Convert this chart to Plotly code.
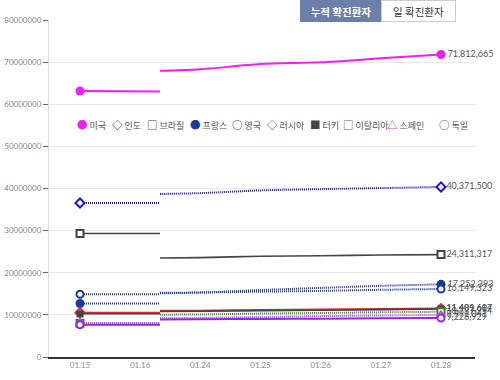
import plotly.graph_objects as go

# ---------------- data ----------------
dates = ["01.15", "01.16", "01.24", "01.25", "01.26", "01.27", "01.28"]
countries = ["미국", "인도", "브라질", "프랑스", "영국", "러시아", "터키", "이탈리아", "스페인", "독일"]

us      = [63150000, 63000000, 68300000, 69550000, 69950000, 70900000, 71812665]
india   = [36550000, 36550000, 38900000, 39550000, 39850000, 40100000, 40371500]
brazil  = [29300000, 29300000, 23600000, 23900000, 24050000, 24200000, 24311317]
france  = [12700000, 12700000, 15300000, 15900000, 16400000, 16900000, 17252393]
uk      = [14900000, 14900000, 15300000, 15500000, 15700000, 15950000, 16149323]
russia  = [10500000, 10500000, 11000000, 11150000, 11250000, 11380000, 11489617]
turkey  = [10250000, 10250000, 10850000, 11000000, 11100000, 11250000, 11401604]
italy   = [8000000, 8000000, 10100000, 10300000, 10450000, 10600000, 10737254]
spain   = [8100000, 8100000, 9300000, 9500000, 9700000, 9850000, 9991041]
germany = [7650000, 7650000, 8950000, 9050000, 9100000, 9170000, 9228929]

series_values = [us, india, brazil, france, uk, russia, turkey, italy, spain, germany]

y_ticks = [0, 10000000, 20000000, 30000000, 40000000, 50000000, 60000000, 70000000, 80000000]

# ---------------- styles ----------------
colors = ["#f01ef0", "#1a1acc", "#444444", "#1c3a9c", "#1c3a9c",
          "#d62c2c", "#444444", "#2e8b3e", "#e040e0", "#8a2be2"]
dashes = ["solid", "1px,1px", "solid", "1px,1px", "1px,1px",
          "solid", "solid", "1px,1px", "1px,1px", "solid"]
widths = [2, 2, 1.6, 2, 2, 2, 1.6, 2, 2, 2]
symbols = ["circle", "diamond", "square", "circle", "circle",
           "diamond", "square", "square", "triangle-up", "circle"]
filled = [True, False, False, True, False, False, True, False, False, False]
glyphs = ["●", "◇", "□", "●", "○", "◇", "■", "□", "△", "○"]

W, H = 500, 380
ML, MR, MT, MB = 49, 25, 20, 23
BREAK = 1.33  # where the first segment visually ends


def px_x(px):
    return (px - ML) / (W - ML - MR)


def px_y(py):
    return (H - MB - py) / (H - MT - MB)


fig = go.Figure()
idx = list(range(len(dates)))

for name, vals, c, d, w, s, f in zip(countries, series_values, colors, dashes, widths, symbols, filled):
    # first segment
    fig.add_trace(go.Scatter(
        x=[idx[0], idx[1], BREAK], y=[vals[0], vals[1], vals[1]],
        mode="lines", line=dict(color=c, width=w, dash=d),
        showlegend=False, hoverinfo="skip"))
    # second segment (starts slightly before 01.24, following the trend)
    start = vals[2] - 0.3 * (vals[3] - vals[2])
    fig.add_trace(go.Scatter(
        x=[BREAK] + idx[2:], y=[start] + vals[2:],
        mode="lines", line=dict(color=c, width=w, dash=d, shape="spline", smoothing=0.8),
        showlegend=False, hoverinfo="skip"))
    # end markers + last value label
    fig.add_trace(go.Scatter(
        x=[idx[0], idx[-1]], y=[vals[0], vals[-1]],
        mode="markers+text",
        text=["", f"{vals[-1]:,}"],
        textposition="middle right",
        textfont=dict(size=9, color="#555555", family="Lato"),
        marker=dict(symbol=s, size=(9 if f and s == "circle" else 7),
                    color=c if f else "white",
                    line=dict(color=c, width=0 if f else 2)),
        name=name, showlegend=False, cliponaxis=False))

annotations = []
# legend drawn as text items
legend_left_px = [75, 110, 145, 188, 230, 265, 308, 341, 385, 437]
for name, c, g, lx in zip(countries, colors, glyphs, legend_left_px):
    annotations.append(dict(
        x=px_x(lx), y=px_y(124), xref="paper", yref="paper",
        xanchor="left", yanchor="middle", showarrow=False,
        text=f"<span style='color:{c};font-size:10.5px;font-weight:bold'>{g}</span> {name}",
        font=dict(size=9, color="#555555", family="Noto Sans CJK KR")))

# toggle buttons
annotations.append(dict(
    x=px_x(340.5), y=px_y(11), xref="paper", yref="paper",
    xanchor="center", yanchor="middle", showarrow=False,
    text="<b>누적 확진환자</b>", width=78, height=18,
    bgcolor="#6b80a8", bordercolor="#6b80a8", borderwidth=1, borderpad=1,
    font=dict(size=10.5, color="white", family="Noto Sans CJK KR")))
annotations.append(dict(
    x=px_x(418), y=px_y(11), xref="paper", yref="paper",
    xanchor="center", yanchor="middle", showarrow=False,
    text="일 확진환자", width=71, height=18,
    bgcolor="white", bordercolor="#cccccc", borderwidth=1, borderpad=1,
    font=dict(size=10.5, color="#333333", family="Noto Sans CJK KR")))

fig.update_layout(
    width=W, height=H,
    margin=dict(l=ML, r=MR, t=MT, b=MB, autoexpand=False),
    paper_bgcolor="white", plot_bgcolor="white",
    showlegend=False,
    annotations=annotations,
    font=dict(family="Lato, Noto Sans CJK KR", size=8, color="#888888"),
    xaxis=dict(
        range=[-0.515, 6.565], tickmode="array", tickvals=idx, ticktext=dates,
        showgrid=False, zeroline=False, showline=True, linecolor="#333333", linewidth=1.5,
        ticks="", tickfont=dict(size=8, color="#888888"), fixedrange=True,
        automargin=False),
    yaxis=dict(
        range=[0, 80000000], tickmode="array", tickvals=y_ticks,
        ticktext=[str(v) for v in y_ticks],
        showgrid=True, gridcolor="#e8e8e8", gridwidth=1, zeroline=False,
        showline=True, linecolor="#dddddd", linewidth=1,
        ticks="outside", ticklen=5, tickcolor="#666666",
        tickfont=dict(size=8, color="#888888"), fixedrange=True,
        automargin=False),
)

fig.write_html(
    "out.html",
    config={"displayModeBar": False},
    post_script="document.body.style.margin='0';document.body.style.overflow='hidden';",
)
